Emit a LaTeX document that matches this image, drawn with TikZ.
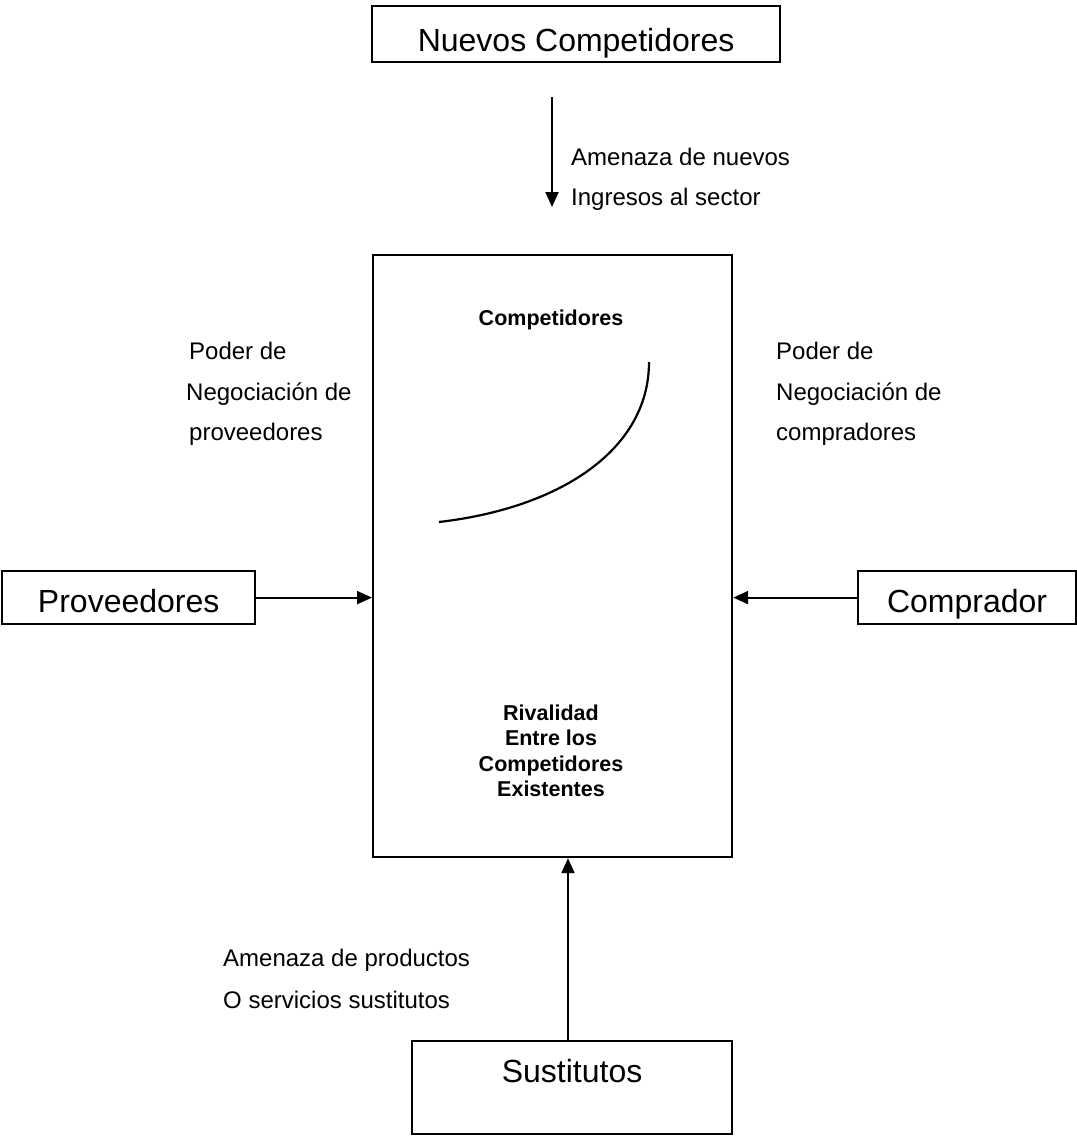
\documentclass[tikz,border=0pt]{standalone}
\usepackage{fontspec}
\setmainfont{Liberation Sans}
\usetikzlibrary{arrows.meta}
\begin{document}
\begin{tikzpicture}[x=1pt,y=-1pt,
  boxline/.style={draw=black, line width=2.2pt},
  forcebox/.style={boxline, rectangle, anchor=north west, inner xsep=0pt, inner ysep=0pt,
    font=\fontsize{32}{38}\selectfont},
  arr/.style={line width=2.2pt, -{Triangle[length=15pt,width=13pt]}},
  smalllbl/.style={anchor=base west, inner sep=0pt, font=\fontsize{24}{28}\selectfont},
  boldlbl/.style={inner sep=0pt, align=center, font=\bfseries\fontsize{21.5}{25.5}\selectfont}]
  \useasboundingbox (0,0) rectangle (1077,1136);

  % the five forces
  \node[forcebox, minimum width=408pt, text height=45pt, text depth=11pt] (nuevos) at (371,5) {Nuevos Competidores};
  \node[boxline, rectangle, anchor=north west, inner sep=0pt, minimum width=359pt, minimum height=602pt] (rival) at (372,254) {};
  \node[forcebox, minimum width=253pt, text height=41.7pt, text depth=11.3pt] (prov) at (1.1,570) {Proveedores};
  \node[forcebox, minimum width=218pt, text height=41.7pt, text depth=11.3pt] (comp) at (857,570) {Comprador};
  \node[forcebox, minimum width=320pt, text height=41.7pt, text depth=51.3pt] (sus) at (411,1040) {Sustitutos};

  % texts inside the central box
  \node[boldlbl, anchor=base] (comptxt) at (551,325) {Competidores};
  \node[boldlbl, anchor=north] (rivtxt) at (551,704.5) {Rivalidad\\Entre los\\Competidores\\Existentes};
  \draw[line width=2.2pt] (439,522) .. controls (560,508) and (649,450) .. (649,362);

  % connectors
  \coordinate (ntop) at (552,97);
  \coordinate (ntip) at (552,207);
  \draw[arr] (ntop) -- (ntip);
  \draw[arr] (prov.east) -- (prov.east -| rival.west);
  \draw[arr] (comp.west) -- (comp.west -| rival.east);
  \coordinate (sx) at (568,0);
  \draw[arr] (sus.north -| sx) -- (rival.south -| sx);

  % force labels
  \node[smalllbl] (amn1) at (571,165.5) {Amenaza de nuevos};
  \node[smalllbl] (amn2) at (571,205.5) {Ingresos al sector};
  \node[smalllbl] (pl1) at (189,359) {Poder de};
  \node[smalllbl] (pl2) at (186,400) {Negociación de};
  \node[smalllbl] (pl3) at (189,440) {proveedores};
  \node[smalllbl] (pr1) at (776,359) {Poder de};
  \node[smalllbl] (pr2) at (776,400) {Negociación de};
  \node[smalllbl] (pr3) at (776,440) {compradores};
  \node[smalllbl] (as1) at (223,966) {Amenaza de productos};
  \node[smalllbl] (as2) at (223,1008) {O servicios sustitutos};
\end{tikzpicture}
\end{document}
